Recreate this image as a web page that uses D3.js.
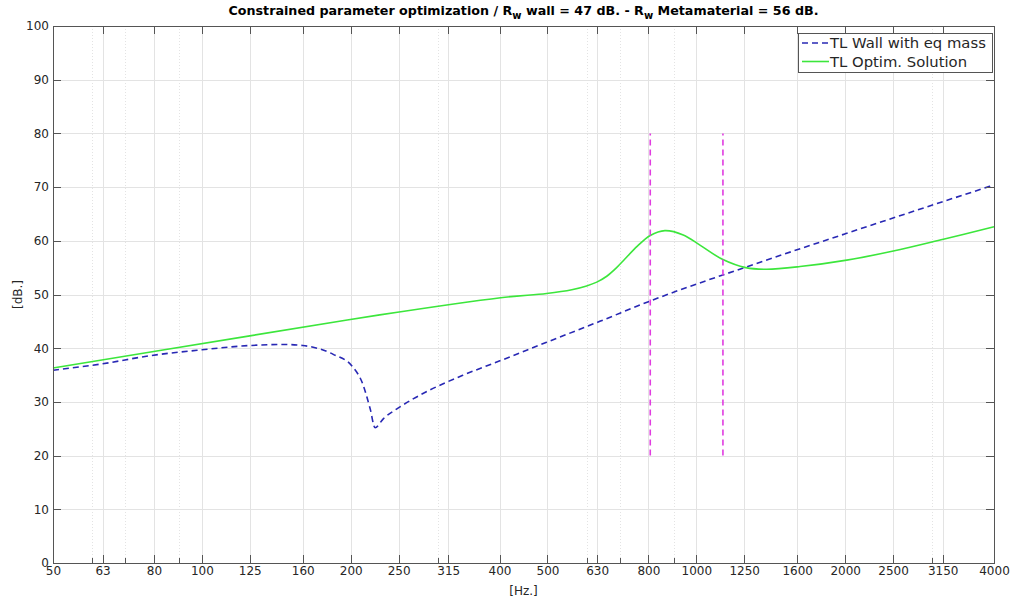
<!DOCTYPE html>
<meta charset="utf-8">
<style>
body { margin: 0; background: #fff; }
text { font-family: "DejaVu Sans", sans-serif; fill: #262626; }
.grid line { stroke: #e3e3e3; stroke-width: 1; shape-rendering: crispEdges; }
.minor line { stroke: #e3e3e3; stroke-dasharray: 1,2; shape-rendering: crispEdges; }
.axis path, .axis line { stroke: #555; shape-rendering: crispEdges; }
</style>
<body>
<script src="https://d3js.org/d3.v7.min.js"></script>
<script>

// tick labels on the frequency axis
var xTicks = [50, 63, 80, 100, 125, 160, 200, 250, 315, 400, 500, 630, 800, 1000, 1250, 1600, 2000, 2500, 3150, 4000];
var xMinor = [60, 70, 90, 300, 600, 700, 900, 3000];
var yTicks = [0, 10, 20, 30, 40, 50, 60, 70, 80, 90, 100];

// TL wall with equivalent mass
var wallFreq = [50, 63, 78.5, 100, 125, 146, 160, 184, 202, 211, 219, 224, 233, 248, 268, 289, 338, 402, 498, 638, 807, 1259, 2000, 4000];
var wallTL   = [35.9, 37.1, 38.6, 39.7, 40.5, 40.7, 40.5, 38.9, 36.5, 33.6, 28.7, 25.2, 26.9, 28.7, 30.6, 32.2, 35.0, 37.7, 41.1, 45.0, 48.8, 55.1, 61.3, 70.4];

// TL optimised solution
var optFreq = [50, 125, 229, 402, 498, 560, 600, 629, 659, 690, 717, 760, 807, 864, 941, 1017, 1132, 1259, 1388, 1621, 2015, 2503, 3160, 4000];
var optTL   = [36.3, 42.3, 46.2, 49.4, 50.2, 50.9, 51.6, 52.3, 53.4, 55.0, 56.6, 59.0, 61.0, 61.9, 61.1, 59.2, 56.5, 55.0, 54.7, 55.2, 56.4, 58.1, 60.3, 62.6];

// band limits (magenta markers)
var bandFreq = [807, 1132];
var bandRange = [20, 80];

var margin = {top: 26, right: 17, bottom: 36, left: 53},
    width = 1011 - margin.left - margin.right,
    height = 599 - margin.top - margin.bottom;

var x = d3.scaleLog().domain([50, 4000]).range([0, width]);
var y = d3.scaleLinear().domain([0, 100]).range([height, 0]);

var svg = d3.select("body").append("svg")
    .attr("width", 1011)
    .attr("height", 599)
  .append("g")
    .attr("transform", "translate(" + margin.left + "," + margin.top + ")");

// minor grid (dotted)
svg.append("g").attr("class", "minor")
  .selectAll("line").data(xMinor).enter().append("line")
    .attr("x1", d => Math.round(x(d)) + 0.5).attr("x2", d => Math.round(x(d)) + 0.5)
    .attr("y1", 0).attr("y2", height);

// major grid
svg.append("g").attr("class", "grid")
  .attr("transform", "translate(0," + height + ")")
  .call(d3.axisBottom(x).tickValues(xTicks).tickSize(-height).tickFormat(""))
  .call(g => g.select(".domain").remove());

svg.append("g").attr("class", "grid")
  .call(d3.axisLeft(y).tickValues(yTicks).tickSize(-width).tickFormat(""))
  .call(g => g.select(".domain").remove());

// curves
var line = d3.line()
    .x(d => x(d[0]))
    .y(d => y(d[1]))
    .curve(d3.curveMonotoneX);

var smooth = d3.line()
    .x(d => x(d[0]))
    .y(d => y(d[1]))
    .curve(d3.curveCatmullRom.alpha(0.5));

svg.append("path")
  .datum(wallFreq.map((f, i) => [f, wallTL[i]]))
  .attr("d", line)
  .attr("fill", "none")
  .attr("stroke", "#2828b4")
  .attr("stroke-width", 1.6)
  .attr("stroke-dasharray", "6,4");

svg.append("path")
  .datum(optFreq.map((f, i) => [f, optTL[i]]))
  .attr("d", smooth)
  .attr("fill", "none")
  .attr("stroke", "#3ce63c")
  .attr("stroke-width", 1.6);

svg.selectAll(".band").data(bandFreq).enter().append("line")
  .attr("x1", d => x(d)).attr("x2", d => x(d))
  .attr("y1", y(bandRange[0])).attr("y2", y(bandRange[1]))
  .attr("stroke", "#e03ce0")
  .attr("stroke-width", 1.6)
  .attr("stroke-dasharray", "6,4");

// axes (box with inner ticks)
var tl = 8;
svg.append("g").attr("class", "axis")
  .attr("transform", "translate(0," + height + ")")
  .call(d3.axisBottom(x).tickValues(xTicks).tickSizeInner(-tl).tickSizeOuter(0).tickPadding(4).tickFormat(d3.format("d")))
  .call(g => g.selectAll("text").attr("dy", "0.71em").attr("y", 3).style("font-size", "12px"));

svg.append("g").attr("class", "axis")
  .call(d3.axisTop(x).tickValues(xTicks).tickSizeInner(-tl).tickSizeOuter(0).tickFormat(""));

svg.append("g").attr("class", "axis")
  .call(d3.axisLeft(y).tickValues(yTicks).tickSizeInner(-tl).tickSizeOuter(0).tickPadding(6))
  .call(g => g.selectAll("text").attr("x", -4).style("font-size", "12px"));

svg.append("g").attr("class", "axis")
  .attr("transform", "translate(" + width + ",0)")
  .call(d3.axisRight(y).tickValues(yTicks).tickSizeInner(-tl).tickSizeOuter(0).tickFormat(""));

// minor ticks on the frequency axis
svg.append("g").attr("class", "axis")
  .selectAll("line").data(xMinor).enter().append("line")
    .attr("x1", d => Math.round(x(d)) + 0.5).attr("x2", d => Math.round(x(d)) + 0.5)
    .attr("y1", height).attr("y2", height - 5);

// x axis label
svg.append("text")
  .attr("text-anchor", "middle")
  .attr("x", width / 2)
  .attr("y", height + 32)
  .style("font-size", "12px")
  .text("[Hz.]");

// y axis label
svg.append("text")
  .attr("text-anchor", "middle")
  .attr("transform", "rotate(-90)")
  .attr("x", -height / 2)
  .attr("y", -31)
  .style("font-size", "12px")
  .text("[dB.]");

// title
var title = svg.append("text")
  .attr("text-anchor", "middle")
  .attr("x", width / 2)
  .attr("y", -11)
  .style("font-size", "12.7px")
  .style("font-weight", "bold")
  .style("fill", "#000");
title.append("tspan").text("Constrained parameter optimization / R");
title.append("tspan").attr("dy", 4).style("font-size", "10px").text("w");
title.append("tspan").attr("dy", -4).text(" wall = 47 dB. - R");
title.append("tspan").attr("dy", 4).style("font-size", "10px").text("w");
title.append("tspan").attr("dy", -4).text(" Metamaterial = 56 dB.");

// legend
var lg = svg.append("g").attr("transform", "translate(" + 745 + "," + 7 + ")");
lg.append("rect")
  .attr("x", 0.5).attr("y", 0.5)
  .attr("width", 194).attr("height", 39)
  .attr("fill", "#fff").attr("stroke", "#555").attr("stroke-width", 1);

var legendItems = [
  {label: "TL Wall with eq mass", color: "#2828b4", dash: "6,4"},
  {label: "TL Optim. Solution", color: "#3ce63c", dash: null}
];
legendItems.forEach(function(d, i) {
  var yy = 10 + i * 18.5;
  lg.append("line")
    .attr("x1", 4).attr("x2", 31)
    .attr("y1", yy).attr("y2", yy)
    .attr("stroke", d.color).attr("stroke-width", 1.6)
    .attr("stroke-dasharray", d.dash);
  lg.append("text")
    .attr("x", 32).attr("y", yy).attr("dy", "0.35em")
    .style("font-size", "14.8px")
    .text(d.label);
});

</script>
</body>
</html>
